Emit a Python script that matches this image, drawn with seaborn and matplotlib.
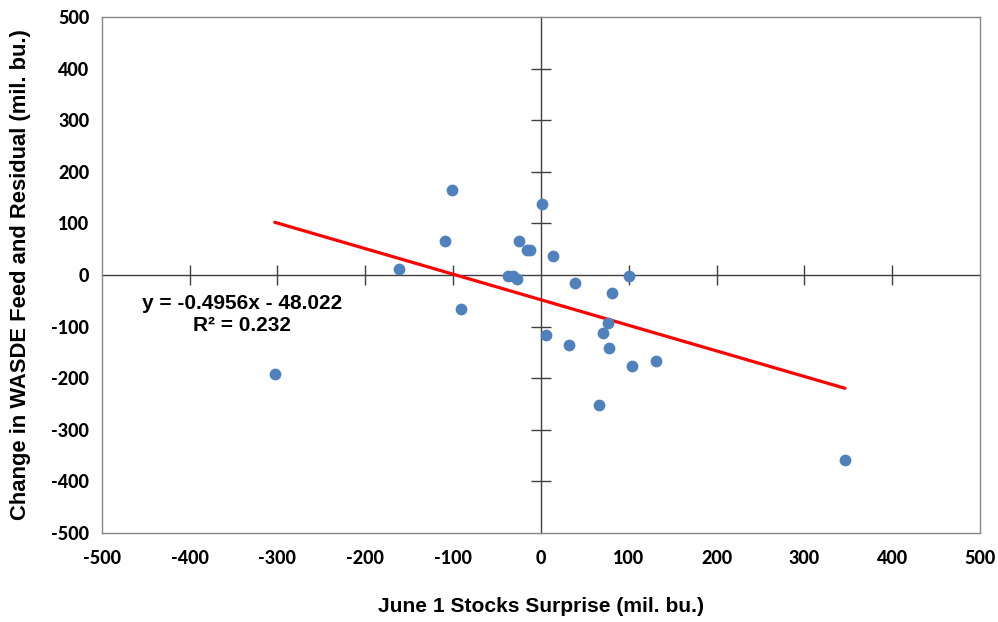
import numpy as np
import pandas as pd
import matplotlib
matplotlib.use("Agg")
import matplotlib.pyplot as plt
import seaborn as sns

# Data
surprise = [-303, -161.7, -109.3, -101.7, -91.5, -37.2, -32.3, -27.7, -24.7, -16.3,
            -12.5, 1.1, 6, 14, 32.3, 39, 66.4, 70.2, 76, 77.4,
            80.9, 100.6, 104, 131.3, 346.2]
feed_change = [-191, 12.4, 66, 164.7, -65, -2, -2, -8.3, 66, 49,
               49, 137, -116, 37, -135.6, -16, -252.5, -113, -94, -140.8,
               -35.5, -2, -175.7, -167, -358.5]

trend_slope = -0.4956
trend_intercept = -48.022
r_squared = 0.232

x_ticks = [-500, -400, -300, -200, -100, 0, 100, 200, 300, 400, 500]
y_ticks = [-500, -400, -300, -200, -100, 0, 100, 200, 300, 400, 500]

x_label = "June 1 Stocks Surprise (mil. bu.)"
y_label = "Change in WASDE Feed and Residual (mil. bu.)"

df = pd.DataFrame({"x": surprise, "y": feed_change})
xr = np.array([min(surprise), max(surprise)])
trend_df = pd.DataFrame({"x": xr, "y": trend_slope * xr + trend_intercept})

sns.set_theme(style="white")
plt.rcParams["font.family"] = ["Liberation Sans", "DejaVu Sans"]
plt.rcParams["text.color"] = "black"
plt.rcParams["axes.labelcolor"] = "black"

fig = plt.figure(figsize=(9.98, 6.22), dpi=100)
pos = [0.1019, 0.1431, 0.8802, 0.8296]
ax = fig.add_axes(pos)

sns.scatterplot(data=df, x="x", y="y", ax=ax, color="#4F81BD", s=72,
                linewidth=0, zorder=4)
sns.lineplot(data=trend_df, x="x", y="y", ax=ax, color="#FF0000",
             linewidth=2.3, zorder=3)

ax.set_xlim(-500, 500)
ax.set_ylim(-500, 500)
ax.set_xticks(x_ticks)
ax.set_yticks(y_ticks)
ax.set_xticklabels([str(v) for v in x_ticks], fontfamily="Lato",
                   fontweight=900, fontsize=13, color="black")
ax.set_yticklabels([str(v) for v in y_ticks], fontfamily="Lato",
                   fontweight=900, fontsize=13, color="black")
ax.tick_params(axis="both", length=0, colors="black")
ax.tick_params(axis="y", pad=9)
ax.tick_params(axis="x", pad=12)
for sp in ax.spines.values():
    sp.set_visible(True)
    sp.set_color("#868686")
    sp.set_linewidth(1.0)

ax.set_xlabel(x_label, fontweight="bold", fontsize=15.1, labelpad=22,
              color="black")
ax.set_ylabel(y_label, fontweight="bold", fontsize=15.8, labelpad=14.6,
              color="black")

# Zero-crossing axes with cross ticks (Excel style)
ax2 = fig.add_axes(pos, facecolor="none")
ax2.set_xlim(-500, 500)
ax2.set_ylim(-500, 500)
ax2.spines["left"].set_position(("data", 0))
ax2.spines["bottom"].set_position(("data", 0))
ax2.spines["top"].set_visible(False)
ax2.spines["right"].set_visible(False)
for k in ["left", "bottom"]:
    ax2.spines[k].set_color("#404040")
    ax2.spines[k].set_linewidth(1.0)
ax2.set_xticks([t for t in x_ticks if t != 0 and abs(t) != 500])
ax2.set_yticks([t for t in y_ticks if t != 0 and abs(t) != 500])
ax2.tick_params(axis="both", which="major", direction="inout", length=14,
                width=1.0, color="#404040", bottom=True, left=True,
                top=False, right=False, labelbottom=False, labelleft=False)
ax2.set_zorder(0)
ax.set_zorder(1)
ax.patch.set_visible(False)

eq_text = f"y = {trend_slope}x - {abs(trend_intercept):.3f}\nR² = {r_squared}"
ax.text(-340, -76, eq_text, ha="center", va="center", fontsize=15,
        fontweight="bold", linespacing=1.2, zorder=5, color="black")

fig.savefig("out.png", dpi=100, facecolor="white")
